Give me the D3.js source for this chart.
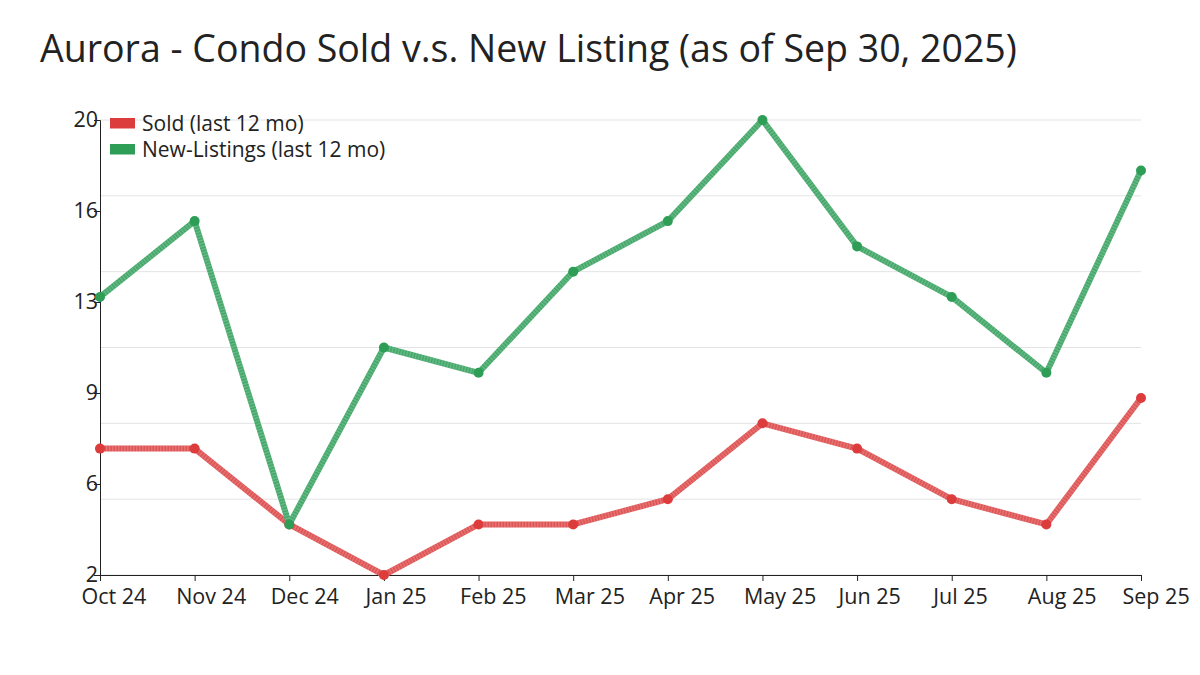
<!DOCTYPE html>
<html>
<head>
<meta charset="utf-8">
<script src="https://cdn.jsdelivr.net/npm/d3@7"></script>
<style>
  body { margin: 0; background: #fff; }
  text { font-family: "Open Sans", sans-serif; fill: #222; }
</style>
</head>
<body>
<div id="chart"></div>
<script>
// Chart data
const months = ["Oct 24", "Nov 24", "Dec 24", "Jan 25", "Feb 25", "Mar 25",
                "Apr 25", "May 25", "Jun 25", "Jul 25", "Aug 25", "Sep 25"];
const sold = [7, 7, 4, 2, 4, 4, 5, 8, 7, 5, 4, 9];
const newListings = [13, 16, 4, 11, 10, 14, 16, 20, 15, 13, 10, 18];
const yTickValues = [2, 5.6, 9.2, 12.8, 16.4, 20];
const yGridValues = [2, 5, 8, 11, 14, 17, 20];

const W = 1200, H = 675;
const margin = {top: 120, right: 59, bottom: 100, left: 100};
const width = W - margin.left - margin.right;
const height = H - margin.top - margin.bottom;

const svg = d3.select("#chart").append("svg")
    .attr("width", W)
    .attr("height", H);

// Title
svg.append("text")
    .attr("x", 40)
    .attr("y", 62)
    .style("font-size", "37.5px")
    .text("Aurora - Condo Sold v.s. New Listing (as of Sep 30, 2025)");

const g = svg.append("g")
    .attr("transform", `translate(${margin.left},${margin.top})`);

const x = d3.scalePoint().domain(months).range([0, width]);
const y = d3.scaleLinear().domain([2, 20]).range([height, 0]);

// Gridlines
g.append("g")
    .selectAll("line")
    .data(yGridValues)
    .join("line")
    .attr("x1", 0)
    .attr("x2", width)
    .attr("y1", d => y(d))
    .attr("y2", d => y(d))
    .attr("stroke", "#e3e3e3")
    .attr("stroke-width", 1);

// Axes
const xAxis = g.append("g")
    .attr("transform", `translate(0,${height})`)
    .call(d3.axisBottom(x).tickSizeOuter(0).tickSize(6).tickPadding(8));
// labels start a little left of their tick, as in the original
xAxis.selectAll("text")
    .attr("text-anchor", "start")
    .attr("x", -19)
    .style("font-size", "21.5px")
    .attr("fill", "#222");
xAxis.selectAll("line, path").attr("stroke", "#222");

const yAxis = g.append("g")
    .call(d3.axisLeft(y).tickValues(yTickValues).tickFormat(d3.format(".0f"))
        .tickSizeOuter(0).tickSize(6).tickPadding(-4));
yAxis.selectAll("text").attr("x", -2).style("font-size", "21.5px").attr("fill", "#222");
yAxis.selectAll("line, path").attr("stroke", "#222");

// Lines
const series = [
    {name: "Sold (last 12 mo)", values: sold, color: "#dc3c3c", line: "#df5454"},
    {name: "New-Listings (last 12 mo)", values: newListings, color: "#2e9e57", line: "#44a86a"}
];

const line = d3.line()
    .x((d, i) => x(months[i]))
    .y(d => y(d));

series.forEach(s => {
    g.append("path")
        .datum(s.values)
        .attr("fill", "none")
        .attr("stroke", s.line)
        .attr("stroke-width", 6)
        .attr("stroke-linejoin", "round")
        .attr("d", line);
    g.append("path")
        .datum(s.values)
        .attr("fill", "none")
        .attr("stroke", "#ffffff")
        .attr("stroke-opacity", 0.18)
        .attr("stroke-width", 6)
        .attr("stroke-dasharray", "1.5,1.5")
        .attr("d", line);
    g.selectAll(null)
        .data(s.values)
        .join("circle")
        .attr("cx", (d, i) => x(months[i]))
        .attr("cy", d => y(d))
        .attr("r", 5)
        .attr("fill", s.color);
});

// Legend
const legend = g.append("g").attr("transform", "translate(10,-2)");
series.forEach((s, i) => {
    const row = legend.append("g").attr("transform", `translate(0,${i * 26})`);
    row.append("rect")
        .attr("width", 25)
        .attr("height", 10.5)
        .attr("fill", s.color);
    row.append("text")
        .attr("x", 32)
        .attr("y", 5.5)
        .attr("dy", "0.35em")
        .style("font-size", "21px")
        .text(s.name);
});
</script>
</body>
</html>
